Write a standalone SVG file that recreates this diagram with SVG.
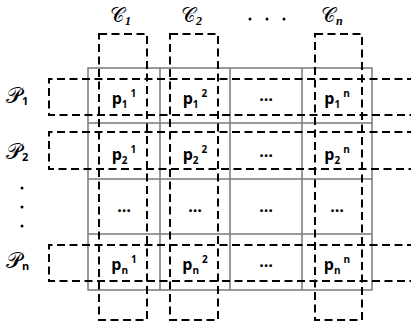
<svg xmlns="http://www.w3.org/2000/svg" width="411" height="326" viewBox="0 0 411 326">
<style>
.grid{fill:none;stroke:#7a7a7a;stroke-width:1.5}
.dash{fill:none;stroke:#000;stroke-width:2;stroke-dasharray:8 4.5}
.cell{font-family:"Open Sans","Liberation Sans",sans-serif;font-weight:bold;font-size:16px;fill:#000}
.sm{font-size:10px}
.scr{font-family:"DejaVu Serif","DejaVu Sans",serif;font-size:22px;fill:#000}
.scc{font-family:"DejaVu Serif","DejaVu Sans",serif;font-size:20px;fill:#000}
.sub{font-family:"Open Sans","Liberation Sans",sans-serif;font-weight:bold;font-size:11px}
.subi{font-family:"Liberation Serif",serif;font-weight:bold;font-style:italic;font-size:12px}
</style>
<rect width="411" height="326" fill="#fff"/>
<g id="connectors">
<g id="grid">
<rect class="grid" x="88" y="68" width="284" height="222"/>
<path class="grid" d="M160 68V290M230 68V290M302 68V290M88 123H372M88 179H372M88 234H372"/>
</g>
<g id="col-groups">
<rect class="dash" x="99" y="34" width="48" height="286"/>
<rect class="dash" x="170" y="34" width="48" height="286"/>
<rect class="dash" x="315" y="34" width="47" height="286"/>
</g>
<g id="row-groups">
<path class="dash" d="M415 79H49V115H415"/>
<path class="dash" d="M415 132H49V169H415"/>
<path class="dash" d="M415 245H49V281H415"/>
</g>
</g>
<g id="col-labels">
<text class="scc" x="110" y="22">𝒞<tspan class="subi" dy="3">1</tspan></text>
<text class="scc" x="181" y="22">𝒞<tspan class="subi" dy="3">2</tspan></text>
<text class="scc" x="321" y="22">𝒞<tspan class="subi" dy="3">n</tspan></text>
<g id="top-dots" fill="#000"><circle cx="250" cy="19" r="1.5"/><circle cx="267" cy="19" r="1.5"/><circle cx="284" cy="19" r="1.5"/></g>
</g>
<g id="row-labels">
<text class="scr" x="6" y="103">𝒫<tspan class="sub" dy="2">1</tspan></text>
<text class="scr" x="6" y="159">𝒫<tspan class="sub" dy="2">2</tspan></text>
<text class="scr" x="6" y="268">𝒫<tspan class="sub" dy="2">n</tspan></text>
<g id="left-dots" fill="#000"><circle cx="22" cy="188" r="1.5"/><circle cx="22" cy="207" r="1.5"/><circle cx="22" cy="226" r="1.5"/></g>
</g>
<g id="cells">
<text class="cell" x="124" y="104" text-anchor="middle">p<tspan class="sm" dy="4">1</tspan><tspan class="sm" dx="3" dy="-11">1</tspan></text>
<text class="cell" x="195" y="104" text-anchor="middle">p<tspan class="sm" dy="4">1</tspan><tspan class="sm" dx="3" dy="-11">2</tspan></text>
<text class="cell" x="266" y="101" text-anchor="middle">…</text>
<text class="cell" x="337" y="104" text-anchor="middle">p<tspan class="sm" dy="4">1</tspan><tspan class="sm" dx="3" dy="-11">n</tspan></text>
<text class="cell" x="124" y="160" text-anchor="middle">p<tspan class="sm" dy="4">2</tspan><tspan class="sm" dx="3" dy="-11">1</tspan></text>
<text class="cell" x="195" y="160" text-anchor="middle">p<tspan class="sm" dy="4">2</tspan><tspan class="sm" dx="3" dy="-11">2</tspan></text>
<text class="cell" x="266" y="157" text-anchor="middle">…</text>
<text class="cell" x="337" y="160" text-anchor="middle">p<tspan class="sm" dy="4">2</tspan><tspan class="sm" dx="3" dy="-11">n</tspan></text>
<text class="cell" x="124" y="212" text-anchor="middle">…</text>
<text class="cell" x="195" y="212" text-anchor="middle">…</text>
<text class="cell" x="266" y="212" text-anchor="middle">…</text>
<text class="cell" x="337" y="212" text-anchor="middle" fill="#888">…</text>
<text class="cell" x="124" y="270" text-anchor="middle">p<tspan class="sm" dy="4">n</tspan><tspan class="sm" dx="3" dy="-11">1</tspan></text>
<text class="cell" x="195" y="270" text-anchor="middle">p<tspan class="sm" dy="4">n</tspan><tspan class="sm" dx="3" dy="-11">2</tspan></text>
<text class="cell" x="266" y="267" text-anchor="middle">…</text>
<text class="cell" x="337" y="270" text-anchor="middle">p<tspan class="sm" dy="4">n</tspan><tspan class="sm" dx="3" dy="-11">n</tspan></text>
</g>
</svg>
